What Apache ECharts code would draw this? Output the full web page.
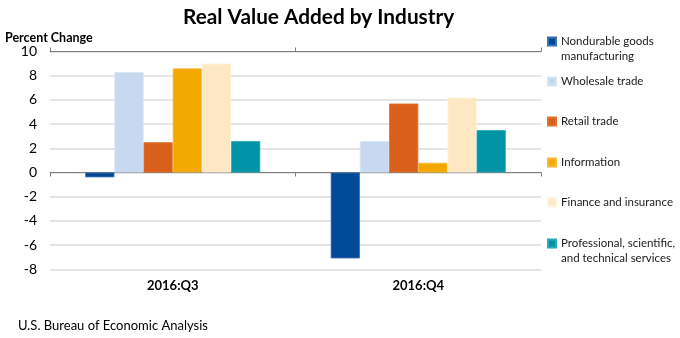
<!DOCTYPE html>
<html>
<head>
<meta charset="utf-8">
<style>
  html, body { margin: 0; padding: 0; background: #fff; }
  #chart { width: 680px; height: 338px; }
</style>
<script src="https://cdn.jsdelivr.net/npm/echarts@6/dist/echarts.min.js"></script>
</head>
<body>
<div id="chart"></div>
<script>
// Quarters shown on the category axis
const quarters = ['2016:Q3', '2016:Q4'];

// Industries (series), with their percent changes per quarter
const industries = [
  'Nondurable goods manufacturing',
  'Wholesale trade',
  'Retail trade',
  'Information',
  'Finance and insurance',
  'Professional, scientific, and technical services'
];
const nondurable   = [-0.4, -7.1];
const wholesale    = [8.3, 2.6];
const retail       = [2.5, 5.7];
const information  = [8.6, 0.8];
const finance      = [9.0, 6.2];
const professional = [2.6, 3.5];

// Legend labels, wrapped across lines
const legendLabels = [
  'Nondurable goods\nmanufacturing',
  'Wholesale trade',
  'Retail trade',
  'Information',
  'Finance and insurance',
  'Professional, scientific,\nand technical services'
];

// Y axis range and step
const yMin = -8, yMax = 10, yStep = 2;

const seriesValues = [nondurable, wholesale, retail, information, finance, professional];
const colors = ['#004996', '#c6d9f0', '#d9601a', '#f2a800', '#fde8c3', '#0094a6'];
const borderColors = ['#3a70b4', '#d6e4f5', '#e0712e', '#f6b933', '#fff3dc', '#2aa9b8'];

const FONT = 'Lato, "Open Sans", sans-serif';

const chart = echarts.init(document.getElementById('chart'), null, { renderer: 'canvas' });

// One legend block per industry so each sits at its own height.
// Wrapped labels get a blank leading line so the swatch lines up with the first line.
const legendTops = [41, 81, 121, 162, 202, 243];
const legends = industries.map((name, i) => {
  const wrapped = legendLabels[i].includes('\n');
  return {
    data: [name],
    orient: 'vertical',
    left: 547,
    top: wrapped ? legendTops[i] - 7 - 15 : legendTops[i] - 7,
    padding: 0,
    itemWidth: 8,
    itemHeight: 8,
    itemGap: 0,
    icon: 'rect',
    selectedMode: false,
    formatter: () => (wrapped ? '\n' : '') + legendLabels[i],
    textStyle: {
      fontFamily: FONT,
      fontSize: 11.5,
      color: '#1a1a1a',
      lineHeight: 15
    }
  };
});

// Plot rectangle shared by the bar grid and the label grid
const plotRect = {
  left: 50, right: 139, top: 51.5, bottom: 68.7,
  containLabel: false,
  outerBoundsMode: 'none'
};

const option = {
  animation: false,
  backgroundColor: '#ffffff',
  title: [
    {
      text: 'Real Value Added by Industry',
      left: 178,
      top: 2,
      textStyle: { fontFamily: FONT, fontSize: 20.8, fontWeight: 'bold', color: '#000' }
    },
    {
      text: 'Percent Change',
      left: 0,
      top: 26,
      textStyle: { fontFamily: FONT, fontSize: 12.5, fontWeight: 'bold', color: '#000' }
    },
    {
      text: 'U.S. Bureau of Economic Analysis',
      left: 13,
      top: 314,
      textStyle: { fontFamily: FONT, fontSize: 13, fontWeight: 'normal', color: '#000' }
    }
  ],
  legend: legends,
  grid: [Object.assign({}, plotRect), Object.assign({}, plotRect)],
  xAxis: [
    // zero line with ticks below it
    {
      type: 'category',
      gridIndex: 0,
      data: quarters,
      position: 'bottom',
      axisLine: { show: true, onZero: true, lineStyle: { color: '#7f7f7f', width: 1 } },
      axisTick: { show: true, length: 4, lineStyle: { color: '#7f7f7f' } },
      axisLabel: { show: false },
      splitLine: { show: false }
    },
    // zero line with ticks above it
    {
      type: 'category',
      gridIndex: 0,
      data: quarters,
      position: 'top',
      axisLine: { show: true, onZero: true, lineStyle: { color: '#7f7f7f', width: 1 } },
      axisTick: { show: true, length: 4, lineStyle: { color: '#7f7f7f' } },
      axisLabel: { show: false },
      splitLine: { show: false }
    },
    // quarter labels along the bottom of the plot
    {
      type: 'category',
      gridIndex: 1,
      data: quarters,
      position: 'bottom',
      axisLine: { show: false, onZero: false },
      axisTick: { show: false },
      axisLabel: {
        margin: 10,
        fontFamily: FONT,
        fontSize: 13,
        fontWeight: 'bold',
        color: '#000'
      },
      splitLine: { show: false }
    }
  ],
  yAxis: [
    {
      type: 'value',
      gridIndex: 0,
      min: yMin,
      max: yMax,
      interval: yStep,
      axisLine: { show: false },
      axisTick: { show: false },
      axisLabel: {
        margin: 13,
        fontFamily: FONT,
        fontSize: 14,
        color: '#000'
      },
      splitLine: { show: true, lineStyle: { color: '#dcdcdc', width: 1.5 } }
    },
    {
      type: 'value',
      gridIndex: 1,
      min: yMin,
      max: yMax,
      interval: yStep,
      show: false
    }
  ],
  series: industries.map((name, i) => ({
    name,
    type: 'bar',
    xAxisIndex: 0,
    yAxisIndex: 0,
    data: seriesValues[i],
    barGap: '0%',
    barCategoryGap: '28.7%',
    itemStyle: { color: colors[i], borderColor: borderColors[i], borderWidth: 0.8 }
  }))
};

chart.setOption(option);
</script>
</body>
</html>
